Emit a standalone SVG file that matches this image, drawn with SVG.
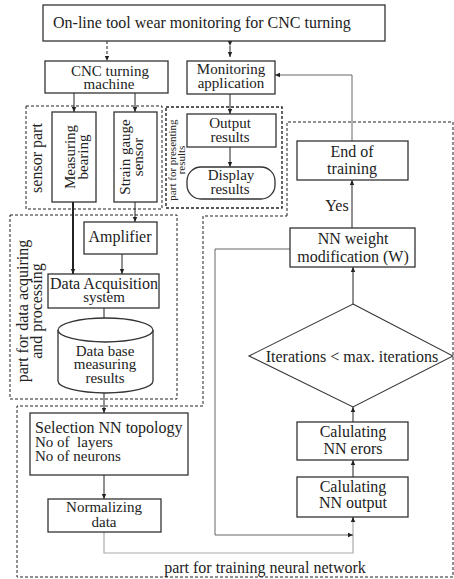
<svg xmlns="http://www.w3.org/2000/svg" width="454" height="579" viewBox="0 0 454 579">
<style>
text{font-family:"Liberation Serif","Times New Roman",serif;font-size:16px;fill:#222}
.c{text-anchor:middle}
.t{font-size:15px}
.box{fill:#fff;stroke:#333;stroke-width:1.3}
.dash{fill:none;stroke:#222;stroke-width:1;stroke-dasharray:3,2}
.ln{fill:none;stroke:#222;stroke-width:1}
.g1{fill:none;stroke:#666;stroke-width:1}
.g2{fill:none;stroke:#aaa;stroke-width:1.2}
.sm{font-size:11px}
</style>
<defs>
<marker id="a" markerWidth="6" markerHeight="6" refX="5" refY="3" orient="auto" markerUnits="userSpaceOnUse"><path d="M0,0.8 L5,3 L0,5.2z" fill="#222"/></marker>
</defs>
<g id="regions">
<rect class="dash" x="26" y="106" width="136" height="103"/>
<rect class="dash" x="166" y="107" width="116" height="101" style="stroke-width:1.4"/>
<rect class="dash" x="10" y="215" width="167" height="184"/>
<path class="dash" d="M287,216 V122 H453 V577 H17 V406 H203 V216 H287"/>
</g>
<g id="connectors">
<path class="ln" d="M107,41 V61" stroke-dasharray="3,2" marker-end="url(#a)"/>
<path class="ln" d="M230,46 V57" marker-start="url(#a)" marker-end="url(#a)"/>
<path class="ln" d="M74,93 V112" marker-end="url(#a)"/>
<path class="ln" d="M135,93 V112" marker-end="url(#a)"/>
<path class="ln" d="M230,94 V114" marker-end="url(#a)"/>
<path class="ln" d="M230,147 V167" marker-end="url(#a)"/>
<path class="ln" d="M73,202 V274" style="stroke-width:2" marker-end="url(#a)"/>
<path class="ln" d="M135,202 V222" marker-end="url(#a)"/>
<path class="ln" d="M122,254 V274" marker-end="url(#a)"/>
<path class="ln" d="M104,308 V328" marker-end="url(#a)"/>
<path class="ln" d="M104,393 V413" marker-end="url(#a)"/>
<path class="ln" d="M104,475 V499" marker-end="url(#a)"/>
<path class="g2" d="M104,532 V553 H353 V517"/>
<path class="ln" d="M353,521 V517" marker-end="url(#a)"/>
<path class="g1" d="M290,249 H215 V535 H353" marker-end="url(#a)"/>
<path class="ln" d="M353,477 V460" marker-end="url(#a)"/>
<path class="ln" d="M353,422 V407" marker-end="url(#a)"/>
<path class="ln" d="M353,304 V267" marker-end="url(#a)"/>
<path class="ln" d="M352,228 V180" marker-end="url(#a)"/>
<path class="g1" d="M352,141 V75 H275" marker-end="url(#a)"/>
</g>
<g id="title"><rect class="box" x="43" y="5" width="342" height="36"/><text x="53" y="28">On-line tool wear monitoring for CNC turning</text></g>
<g id="cnc"><rect class="box" x="45" y="61" width="123" height="32"/><text class="c t" x="110" y="76">CNC turning</text><text class="c t" x="109" y="89">machine</text></g>
<g id="monitoring"><rect class="box" x="187" y="61" width="88" height="33"/><text class="c t" x="231" y="74">Monitoring</text><text class="c t" x="231" y="88">application</text></g>
<g id="sensor-label"><text class="c" transform="translate(42,158) rotate(-90)">sensor part</text></g>
<g id="measuring"><rect class="box" x="52" y="112" width="44" height="90"/><text class="c t" transform="translate(75,157) rotate(-90)">Measuring</text><text class="c t" transform="translate(88,157) rotate(-90)">bearing</text></g>
<g id="strain"><rect class="box" x="114" y="112" width="43" height="90"/><text class="c t" transform="translate(130,157) rotate(-90)">Strain gauge</text><text class="c t" transform="translate(143,157) rotate(-90)">sensor</text></g>
<g id="present-label"><text class="c sm" transform="translate(176,160) rotate(-90)">part for presenting</text><text class="c sm" transform="translate(185,160) rotate(-90)">results</text></g>
<g id="output"><rect class="box" x="187" y="114" width="89" height="33"/><text class="c t" x="230" y="128">Output</text><text class="c t" x="230" y="142">results</text></g>
<g id="display"><rect class="box" x="187" y="167" width="88" height="32" rx="14"/><text class="c t" x="231" y="180">Display</text><text class="c t" x="230" y="194">results</text></g>
<g id="acq-label"><text class="c" transform="translate(28,311) rotate(-90)">part for data acquiring</text><text class="c" transform="translate(42,311) rotate(-90)">and processing</text></g>
<g id="amplifier"><rect class="box" x="84" y="222" width="73" height="32"/><text class="c" x="120" y="242">Amplifier</text></g>
<g id="daq"><rect class="box" x="48" y="274" width="111" height="34"/><text class="c" x="104" y="289">Data Acquisition</text><text class="c t" x="104" y="302">system</text></g>
<g id="database"><path class="box" d="M58,330 V381 A47.5,12 0 0 0 153,381 V330"/><ellipse class="box" cx="105.5" cy="330" rx="47.5" ry="12"/><text class="c t" x="105" y="356">Data base</text><text class="c t" x="105" y="369">measuring</text><text class="c t" x="105" y="383">results</text></g>
<g id="selection"><rect class="box" x="30" y="413" width="158" height="62"/><text x="35" y="433">Selection NN topology</text><text class="t" x="35" y="447">No of&#160; layers</text><text class="t" x="35" y="461">No of neurons</text></g>
<g id="normalizing"><rect class="box" x="48" y="499" width="113" height="33"/><text class="c t" x="104" y="512">Normalizing</text><text class="c t" x="104" y="527">data</text></g>
<g id="end"><rect class="box" x="297" y="141" width="111" height="39"/><text class="c" x="352" y="157">End of</text><text class="c" x="352" y="174">training</text></g>
<g id="yes"><text class="c" x="337" y="211">Yes</text></g>
<g id="weight"><rect class="box" x="290" y="228" width="125" height="39"/><text class="c" x="353" y="244">NN weight</text><text class="c" x="353" y="262">modification (W)</text></g>
<g id="iterations"><path class="box" d="M353,304 L453,356 L353,407 L249,356z" style="stroke-width:1.1"/><text class="c" x="352" y="362">Iterations &lt; max. iterations</text></g>
<g id="errors"><rect class="box" x="297" y="422" width="111" height="38"/><text class="c" x="353" y="437">Calulating</text><text class="c" x="353" y="454">NN erors</text></g>
<g id="nnoutput"><rect class="box" x="297" y="477" width="111" height="40"/><text class="c" x="353" y="492">Calulating</text><text class="c" x="353" y="508">NN output</text></g>
<g id="train-label"><text class="c" x="265" y="573">part for training neural network</text></g>
</svg>
